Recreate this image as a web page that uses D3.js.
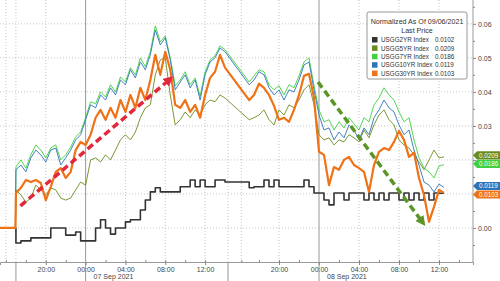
<!DOCTYPE html>
<html>
<head>
<meta charset="utf-8">
<script src="https://cdn.jsdelivr.net/npm/d3@7"></script>
<style>
  html, body { margin: 0; padding: 0; background: #fff; }
  svg { display: block; font-family: "Liberation Sans", Arial, sans-serif; }
</style>
</head>
<body>
<script>
// hours after 07 Sep 2021 00:00 (gap = session break)
const hours = [-8.6, -7.05,
  -7, -6.5, -6, -5.5, -5, -4.5, -4, -3.5, -3, -2.5, -2, -1.5, -1, -0.5,
  0, 0.5, 1, 1.5, 2, 2.5, 3, 3.5, 4, 4.5, 5, 5.5, 6, 6.5, 7, 7.5, 8, 8.5, 9, 9.5,
  10, 10.5, 11, 11.5, 12, 12.5, 13, 13.5, 14,
  17, 17.5, 18, 18.5, 19, 19.5, 20, 20.5, 21, 21.5, 22, 22.5, 23, 23.5,
  24, 24.5, 25, 25.5, 26, 26.5, 27, 27.5, 28, 28.5, 29, 29.5, 30, 30.5, 31, 31.5,
  32, 32.5, 33, 33.5, 34, 34.5, 35, 35.5, 36, 36.5];

// yield change, normalized as of 09/06/2021
const usgg2 = [0, 0,
  -0.0044, -0.0038, -0.0038, -0.0029, -0.0029, -0.0029, -0.0029, 0, 0, 0, -0.0021, -0.0021, -0.0012, -0.0038,
  -0.0038, -0.0038, 0, 0.0024, 0, -0.0018, 0, 0, 0.0018, 0.0024, 0.0024, 0.0053, 0.0082, 0.0106, 0.0118, 0.0106, 0.0106, 0.0106, 0.0106, 0.0121,
  0.0121, 0.0141, 0.0121, 0.0141, 0.0121, 0.0121, 0.0141, 0.0141, 0.0135,
  0.0118, 0.0121, 0.0121, 0.0141, 0.0121, 0.0141, 0.0121, 0.0121, 0.0121, 0.0121, 0.0121, 0.0141, 0.0121, 0.0103,
  0.0103, 0.0082, 0.0068, 0.0103, 0.0103, 0.0082, 0.0103, 0.0103, 0.0103, 0.0082, 0.0103, 0.0082, 0.0103, 0.0082,
  0.0103, 0.0103, 0.0082, 0.0103, 0.0082, 0.0103, 0.0082, 0.0103, 0.0082, 0.0103, 0.0102, 0.0102];

const usgg5 = [0, 0,
  0.0112, 0.0097, 0.0076, 0.0088, 0.0126, 0.0112, 0.0097, 0.0118, 0.0112, 0.0088, 0.0082, 0.0088, 0.0112, 0.0135,
  0.0126, 0.0200, 0.0206, 0.0194, 0.0215, 0.0200, 0.0229, 0.0259, 0.0274, 0.0259, 0.0282, 0.0324, 0.0353, 0.0362, 0.0450, 0.0494, 0.0500, 0.0391, 0.0303, 0.0318,
  0.0341, 0.0324, 0.0347, 0.0332, 0.0362, 0.0376, 0.0371, 0.0391, 0.0382,
  0.0318, 0.0324, 0.0332, 0.0347, 0.0318, 0.0303, 0.0347, 0.0332, 0.0362, 0.0353, 0.0376, 0.0406, 0.0421, 0.0362,
  0.0274, 0.0259, 0.0265, 0.0244, 0.0259, 0.0253, 0.0274, 0.0265, 0.0253, 0.0288, 0.0265, 0.0303, 0.0332, 0.0347,
  0.0318, 0.0303, 0.0259, 0.0244, 0.0235, 0.0215, 0.0194, 0.0171, 0.0200, 0.0229, 0.0206, 0.0209];

const usgg7 = [0, 0,
  0.0179, 0.0200, 0.0176, 0.0215, 0.0244, 0.0229, 0.0206, 0.0235, 0.0244, 0.0200, 0.0215, 0.0238, 0.0268, 0.0282,
  0.0324, 0.0371, 0.0365, 0.0400, 0.0385, 0.0421, 0.0400, 0.0444, 0.0429, 0.0471, 0.0450, 0.0500, 0.0474, 0.0518, 0.0594, 0.0547, 0.0565, 0.0500, 0.0418, 0.0435,
  0.0459, 0.0421, 0.0441, 0.0388, 0.0459, 0.0494, 0.0506, 0.0535, 0.0524,
  0.0429, 0.0447, 0.0465, 0.0459, 0.0421, 0.0406, 0.0418, 0.0391, 0.0421, 0.0412, 0.0447, 0.0488, 0.0500, 0.0418,
  0.0347, 0.0312, 0.0318, 0.0288, 0.0312, 0.0294, 0.0324, 0.0306, 0.0288, 0.0324, 0.0312, 0.0362, 0.0382, 0.0412,
  0.0391, 0.0376, 0.0341, 0.0312, 0.0324, 0.0259, 0.0206, 0.0176, 0.0165, 0.0147, 0.0182, 0.0186];

const usgg10 = [0, 0,
  0.0171, 0.0185, 0.0165, 0.0206, 0.0229, 0.0215, 0.0194, 0.0229, 0.0235, 0.0185, 0.0206, 0.0229, 0.0259, 0.0274,
  0.0318, 0.0362, 0.0353, 0.0391, 0.0376, 0.0412, 0.0391, 0.0435, 0.0421, 0.0465, 0.0441, 0.0488, 0.0465, 0.0509, 0.0582, 0.0538, 0.0559, 0.0494, 0.0406, 0.0429,
  0.0450, 0.0412, 0.0435, 0.0376, 0.0450, 0.0488, 0.0500, 0.0529, 0.0518,
  0.0421, 0.0435, 0.0459, 0.0450, 0.0412, 0.0391, 0.0406, 0.0376, 0.0406, 0.0400, 0.0435, 0.0479, 0.0488, 0.0406,
  0.0332, 0.0288, 0.0294, 0.0259, 0.0282, 0.0265, 0.0303, 0.0288, 0.0259, 0.0294, 0.0274, 0.0324, 0.0347, 0.0376,
  0.0353, 0.0341, 0.0303, 0.0274, 0.0288, 0.0229, 0.0185, 0.0135, 0.0126, 0.0106, 0.0129, 0.0119];

const usgg30 = [0, 0,
  0.0103, 0.0118, 0.0141, 0.0135, 0.0141, 0.0132, 0.0082, 0.0121, 0.0165, 0.0176, 0.0147, 0.0165, 0.0229, 0.0253,
  0.0244, 0.0274, 0.0324, 0.0347, 0.0318, 0.0353, 0.0324, 0.0376, 0.0341, 0.0391, 0.0353, 0.0412, 0.0376, 0.0435, 0.0509, 0.0450, 0.0518, 0.0465, 0.0362, 0.0353,
  0.0376, 0.0341, 0.0362, 0.0324, 0.0391, 0.0441, 0.0459, 0.0509, 0.0471,
  0.0376, 0.0391, 0.0424, 0.0412, 0.0391, 0.0359, 0.0318, 0.0324, 0.0312, 0.0347, 0.0391, 0.0447, 0.0453, 0.0382,
  0.0224, 0.0215, 0.0126, 0.0179, 0.0171, 0.0200, 0.0209, 0.0185, 0.0176, 0.0165, 0.0106, 0.0185, 0.0224, 0.0235,
  0.0229, 0.0253, 0.0285, 0.0259, 0.0209, 0.0221, 0.0147, 0.0097, 0.0018, 0.0062, 0.0112, 0.0103];

const names = ["USGG2YR Index", "USGG5YR Index", "USGG7YR Index", "USGG10YR Index", "USGG30YR Index"];
const lastPrices = [0.0102, 0.0209, 0.0186, 0.0119, 0.0103];

const yTicks = [0, 0.01, 0.02, 0.03, 0.04, 0.05, 0.06];
const yMinorTicks = [-0.005, 0.005, 0.015, 0.025, 0.035, 0.045, 0.055, 0.065];
const xLabelHours = [-4, 0, 4, 8, 12, 20, 24, 28, 32, 36];
const xGridHours = [-8, -4, 4, 8, 12, 16, 20, 28, 32, 36];
const xMinorHours = [-8, -6, -4, -2, 2, 4, 6, 8, 10, 12, 16, 18, 20, 22, 26, 28, 30, 32, 34, 36, 38];
const dayHours = [0, 24];
const dayLabels = ["07 Sep 2021", "08 Sep 2021"];
const sessionHours = [-7, 14.3];

// trend arrows: [hour, value] start and end
const redArrow = [[-6.55, 0.0065], [8.5, 0.0438]];
const greenArrow = [[23.9, 0.0429], [34.4, 0.0015]];

const colors = ["#333333", "#6a8c1f", "#40d040", "#2e74b8", "#ef7216"];
const widths = [1.6, 0.9, 0.9, 0.9, 2.2];

const width = 500, height = 281;
const plotRight = 473, plotBottom = 262;

const svg = d3.select("body").append("svg")
    .attr("width", width)
    .attr("height", height);

// time scale with compressed session break
const x = d3.scaleLinear()
    .domain([-8.6, 14.3, 17.1, 39.4])
    .range([0, 228, 250, plotRight]);

const y = d3.scaleLinear()
    .domain([-0.01, 0.067])
    .range([plotBottom, 0]);

// last price tag positions, stacked so they do not overlap
// (2YR tag sits hidden under the 30YR one, so it is not drawn)
const tagH = 8.2;
let prevBottom = -Infinity;
const tags = [1, 2, 3, 4]
  .map(i => ({ i: i, cy: y(lastPrices[i]) - 1.5 }))
  .sort((a, b) => a.cy - b.cy);
tags.forEach(t => {
  t.cy = Math.max(t.cy, prevBottom + tagH / 2 + 0.3);
  prevBottom = t.cy + tagH / 2;
});
const coveredByTag = v => tags.some(t => Math.abs(y(v) - t.cy) < tagH);

// gridlines
svg.append("g").selectAll("line")
    .data(yTicks)
    .enter().append("line")
    .attr("x1", 0).attr("x2", plotRight)
    .attr("y1", d => y(d)).attr("y2", d => y(d))
    .attr("stroke", "#b8b8b8").attr("stroke-width", 0.8)
    .attr("stroke-dasharray", "1,2");

svg.append("g").selectAll("line")
    .data(xGridHours.concat(sessionHours))
    .enter().append("line")
    .attr("x1", d => x(d)).attr("x2", d => x(d))
    .attr("y1", 0).attr("y2", plotBottom)
    .attr("stroke", "#b8b8b8").attr("stroke-width", 0.8)
    .attr("stroke-dasharray", "1,2");

// day separators
svg.append("g").selectAll("line")
    .data(dayHours)
    .enter().append("line")
    .attr("x1", d => x(d)).attr("x2", d => x(d))
    .attr("y1", 0).attr("y2", height)
    .attr("stroke", "#8a8a8a").attr("stroke-width", 0.9);

// session markers below axis
svg.append("g").selectAll("line")
    .data(sessionHours)
    .enter().append("line")
    .attr("x1", d => x(d)).attr("x2", d => x(d))
    .attr("y1", plotBottom).attr("y2", height)
    .attr("stroke", "#8a8a8a").attr("stroke-width", 0.9);

// x axis
const fmtHour = h => String(((h % 24) + 24) % 24).padStart(2, "0") + ":00";
const xAxis = svg.append("g")
    .attr("transform", "translate(0," + plotBottom + ")")
    .call(d3.axisBottom(x).tickValues(xLabelHours).tickSize(3).tickFormat(fmtHour));
xAxis.select(".domain").attr("stroke", "#999");
xAxis.selectAll(".tick line").attr("stroke", "#888");
xAxis.selectAll("text").attr("fill", "#444").style("font-size", "7px").attr("dy", "0.55em");

svg.append("g")
    .attr("transform", "translate(0," + plotBottom + ")")
    .call(d3.axisTop(x).tickValues(xMinorHours).tickSize(2).tickFormat(""))
    .call(g => g.select(".domain").remove())
    .selectAll(".tick line").attr("stroke", "#888");

svg.append("g").selectAll("text")
    .data(dayLabels)
    .enter().append("text")
    .attr("x", (d, i) => x(dayHours[i]) + 8)
    .attr("y", 279)
    .attr("fill", "#444")
    .style("font-size", "7px")
    .text(d => d);

// y axis on the right (labels under the price tags are hidden, as in the original)
const yAxis = svg.append("g")
    .attr("transform", "translate(" + plotRight + ",0)")
    .call(d3.axisRight(y).tickValues(yTicks).tickSize(3)
      .tickFormat(d => coveredByTag(d) ? "" : d3.format(".2f")(d)));
yAxis.select(".domain").attr("stroke", "#999").attr("d", "M0,0V" + plotBottom);
yAxis.selectAll(".tick line").attr("stroke", "#888");
yAxis.selectAll("text").attr("fill", "#444").style("font-size", "7px").attr("x", 5);

svg.append("g")
    .attr("transform", "translate(" + plotRight + ",0)")
    .call(d3.axisRight(y).tickValues(yMinorTicks).tickSize(2).tickFormat(""))
    .call(g => g.select(".domain").remove())
    .selectAll(".tick line").attr("stroke", "#888");

// series
const seriesValues = [usgg2, usgg5, usgg7, usgg10, usgg30];
const series = seriesValues.map((vals, i) => ({
  name: names[i],
  color: colors[i],
  width: widths[i],
  points: hours.map((h, j) => [h, vals[j]])
}));

series.forEach((s, i) => {
  const line = d3.line()
      .x(d => x(d[0]))
      .y(d => y(d[1]))
      .curve(i === 0 ? d3.curveStepAfter : d3.curveLinear);
  svg.append("path")
      .datum(s.points)
      .attr("fill", "none")
      .attr("stroke", s.color)
      .attr("stroke-width", s.width)
      .attr("stroke-linejoin", "round")
      .attr("d", line);
});

// arrows
const defs = svg.append("defs");
function arrow(pts, color, id) {
  defs.append("marker")
      .attr("id", id)
      .attr("viewBox", "0 0 10 10")
      .attr("refX", 6).attr("refY", 5)
      .attr("markerWidth", 10).attr("markerHeight", 10)
      .attr("markerUnits", "userSpaceOnUse")
      .attr("orient", "auto")
    .append("path")
      .attr("d", "M0,0L10,5L0,10Z")
      .attr("fill", color);
  svg.append("line")
      .attr("x1", x(pts[0][0])).attr("y1", y(pts[0][1]))
      .attr("x2", x(pts[1][0])).attr("y2", y(pts[1][1]))
      .attr("stroke", color)
      .attr("stroke-width", 3.5)
      .attr("stroke-dasharray", "7,4")
      .attr("marker-end", "url(#" + id + ")");
}
arrow(redArrow, "#e3283d", "head-red");
arrow(greenArrow, "#5b9526", "head-green");

// last price tags
tags.forEach(t => {
  const g = svg.append("g");
  g.append("path")
      .attr("d", "M" + plotRight + "," + t.cy + "L" + (plotRight + 4) + "," + (t.cy - tagH / 2) +
            "H" + width + "V" + (t.cy + tagH / 2) + "H" + (plotRight + 4) + "Z")
      .attr("fill", colors[t.i]);
  g.append("text")
      .attr("x", plotRight + 6)
      .attr("y", t.cy + 2.2)
      .attr("fill", "#fff")
      .style("font-size", "6.3px")
      .text(d3.format(".4f")(lastPrices[t.i]));
});

// legend
const legend = svg.append("g").attr("transform", "translate(367,12)");
legend.append("rect")
    .attr("width", 100).attr("height", 67)
    .attr("rx", 2)
    .attr("fill", "#fff")
    .attr("stroke", "#8c8c8c")
    .attr("stroke-width", 0.9);
legend.append("text")
    .attr("x", 50).attr("y", 12)
    .attr("text-anchor", "middle")
    .attr("fill", "#333")
    .style("font-size", "7.1px")
    .text("Normalized As Of 09/06/2021");
legend.append("text")
    .attr("x", 50).attr("y", 20.5)
    .attr("text-anchor", "middle")
    .attr("fill", "#333")
    .style("font-size", "7.1px")
    .text("Last Price");
const rows = legend.selectAll(".row")
    .data(series)
    .enter().append("g")
    .attr("transform", (d, i) => "translate(0," + (25 + i * 8.4) + ")");
rows.append("rect")
    .attr("x", 5).attr("y", 0)
    .attr("width", 5.5).attr("height", 5.5)
    .attr("fill", d => d.color);
rows.append("text")
    .attr("x", 14).attr("y", 5.2)
    .attr("fill", "#333")
    .style("font-size", "6.3px")
    .text(d => d.name);
rows.append("text")
    .attr("x", 68).attr("y", 5.2)
    .attr("fill", "#333")
    .style("font-size", "6.3px")
    .text((d, i) => d3.format(".4f")(lastPrices[i]));
</script>
</body>
</html>
